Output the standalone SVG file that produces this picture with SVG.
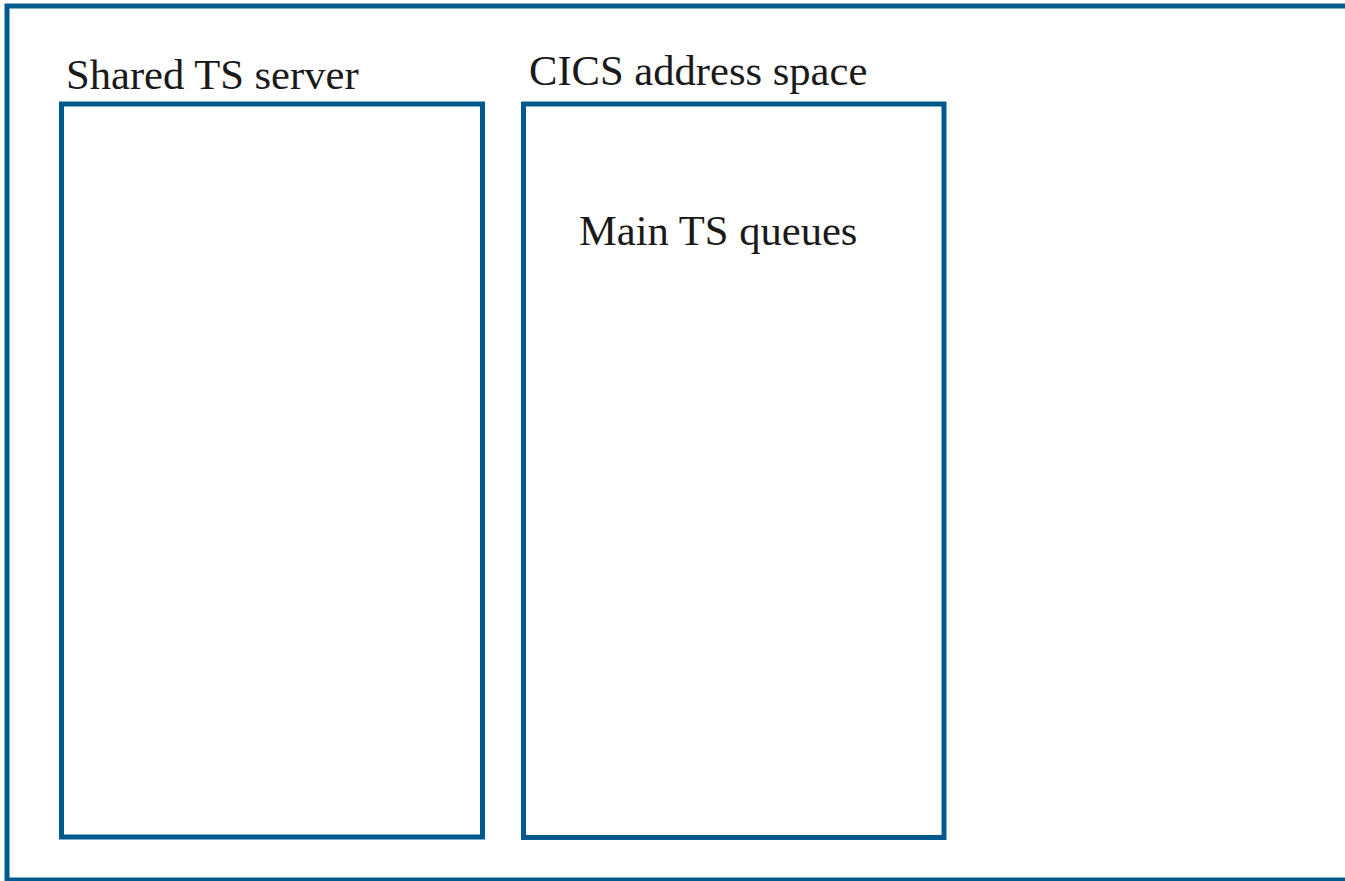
<svg xmlns="http://www.w3.org/2000/svg" width="1345" height="881" viewBox="0 0 1345 881">
<style>
.box{fill:none;stroke:#005a8e;stroke-width:5}
.t{font-family:'Liberation Serif','Times New Roman',serif;font-size:42.6px;fill:#1a1a1a}
</style>
<rect width="1345" height="881" fill="#ffffff"/>
<g id="frame"><rect class="box" x="7" y="6" width="1350" height="874"/></g>
<g id="shared-ts-server">
<rect class="box" x="61.5" y="104" width="421" height="733"/>
<text class="t" x="66" y="89">Shared TS server</text>
</g>
<g id="cics-address-space">
<rect class="box" x="523.5" y="104" width="420.5" height="733.5"/>
<text class="t" x="529" y="85">CICS address space</text>
<text class="t" x="579" y="245">Main TS queues</text>
</g>
<g id="connectors"></g>
</svg>
